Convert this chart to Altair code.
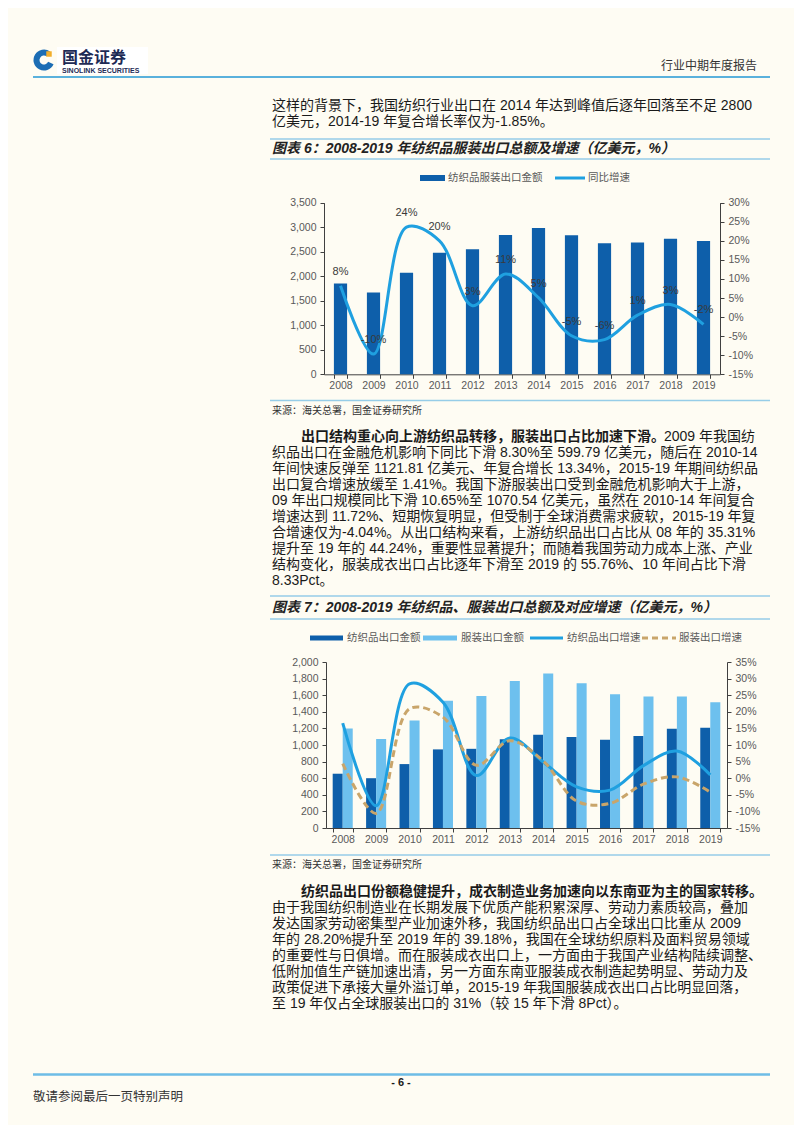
import altair as alt
import pandas as pd

# ---------------- data ----------------
years = [str(y) for y in range(2008, 2020)]

# Chart 6: total textile & apparel exports (100m USD) and YoY growth (%)
total_export = [1850, 1670, 2070, 2480, 2550, 2840, 2984, 2838, 2672, 2686, 2767, 2718]
total_growth = [8.2, -9.7, 23.6, 20.0, 3.0, 11.3, 5.1, -4.9, -5.9, 0.5, 3.3, -1.9]
total_growth_labels = ["8%", "-10%", "24%", "20%", "3%", "11%", "5%", "-5%", "-6%", "1%", "3%", "-2%"]

# Chart 7: textile / apparel exports (100m USD) and growth (%)
textile_export = [654, 600, 770, 947, 954, 1069, 1122, 1095, 1064, 1108, 1196, 1208]
apparel_export = [1198, 1071, 1294, 1532, 1591, 1771, 1862, 1743, 1612, 1584, 1584, 1516]
textile_growth = [16.6, -8.3, 28.4, 22.9, 0.8, 12.1, 4.9, -2.6, -3.6, 3.8, 8.2, 1.0]
apparel_growth = [4.4, -10.6, 20.9, 18.4, 3.9, 11.3, 5.2, -6.9, -7.6, -1.8, 0.4, -4.2]

series7 = ["纺织品出口金额", "服装出口金额"]
legend6 = ["纺织品服装出口金额", "同比增速"]
legend7 = ["纺织品出口金额", "服装出口金额", "纺织品出口增速", "服装出口增速"]

left_ticks6 = [0, 500, 1000, 1500, 2000, 2500, 3000, 3500]
right_ticks6 = [-15, -10, -5, 0, 5, 10, 15, 20, 25, 30]
left_ticks7 = [0, 200, 400, 600, 800, 1000, 1200, 1400, 1600, 1800, 2000]
right_ticks7 = [-15, -10, -5, 0, 5, 10, 15, 20, 25, 30, 35]

header_title = "行业中期年度报告"
logo_cn = "国金证券"
logo_en = "SINOLINK SECURITIES"

para1 = [
    "这样的背景下，我国纺织行业出口在 2014 年达到峰值后逐年回落至不足 2800",
    "亿美元，2014-19 年复合增长率仅为-1.85%。",
]
title6 = "图表 6：2008-2019 年纺织品服装出口总额及增速（亿美元，%）"
title7 = "图表 7：2008-2019 年纺织品、服装出口总额及对应增速（亿美元，%）"
source_text = "来源：海关总署，国金证券研究所"

para2_bold = "出口结构重心向上游纺织品转移，服装出口占比加速下滑。"
para2_first_tail = "2009 年我国纺"
para2 = [
    "织品出口在金融危机影响下同比下滑 8.30%至 599.79 亿美元，随后在 2010-14",
    "年间快速反弹至 1121.81 亿美元、年复合增长 13.34%，2015-19 年期间纺织品",
    "出口复合增速放缓至 1.41%。我国下游服装出口受到金融危机影响大于上游，",
    "09 年出口规模同比下滑 10.65%至 1070.54 亿美元，虽然在 2010-14 年间复合",
    "增速达到 11.72%、短期恢复明显，但受制于全球消费需求疲软，2015-19 年复",
    "合增速仅为-4.04%。从出口结构来看，上游纺织品出口占比从 08 年的 35.31%",
    "提升至 19 年的 44.24%，重要性显著提升；而随着我国劳动力成本上涨、产业",
    "结构变化，服装成衣出口占比逐年下滑至 2019 的 55.76%、10 年间占比下滑",
    "8.33Pct。",
]
para3_bold = "纺织品出口份额稳健提升，成衣制造业务加速向以东南亚为主的国家转移。"
para3 = [
    "由于我国纺织制造业在长期发展下优质产能积累深厚、劳动力素质较高，叠加",
    "发达国家劳动密集型产业加速外移，我国纺织品出口占全球出口比重从 2009",
    "年的 28.20%提升至 2019 年的 39.18%，我国在全球纺织原料及面料贸易领域",
    "的重要性与日俱增。而在服装成衣出口上，一方面由于我国产业结构陆续调整、",
    "低附加值生产链加速出清，另一方面东南亚服装成衣制造起势明显、劳动力及",
    "政策促进下承接大量外溢订单，2015-19 年我国服装成衣出口占比明显回落，",
    "至 19 年仅占全球服装出口的 31%（较 15 年下滑 8Pct）。",
]
footer_page = "- 6 -"
footer_note = "敬请参阅最后一页特别声明"

# ---------------- layout helpers ----------------
W, H = 786, 1117
OX, OY = 8, 8


def px(x):
    return x - OX


def py(y):
    return y - OY


FONT = 'Liberation Sans, "Noto Sans CJK SC", sans-serif'
BG = "#FEFCF3"
DARK = "#0E5FAA"
LIGHT = "#6DC0EE"
LINE_BLUE = "#1FA0E0"
TAN = "#C9A56A"
SEP = "#96CDE8"
AXIS_C = "#404040"
LABEL_C = "#595959"

NX = alt.X("x:Q", scale=None, axis=None)
NY = alt.Y("y:Q", scale=None, axis=None)


def text_layer(rows, **kw):
    df = pd.DataFrame(rows)
    base = dict(font=FONT, baseline="middle", align="left", color="#1a1a1a", fontSize=14)
    base.update(kw)
    return alt.Chart(df).mark_text(**base).encode(x=NX, y=NY, text="t:N")


layers = []

# ---------- decorative rules ----------
rules = pd.DataFrame([
    dict(x=px(33), x2=px(770), y=py(77), c="#5AB1DC", w=2.2),
    dict(x=px(270), x2=px(770), y=py(139), c=SEP, w=1.5),
    dict(x=px(270), x2=px(770), y=py(159), c=SEP, w=1.5),
    dict(x=px(270), x2=px(770), y=py(400.5), c=SEP, w=1.5),
    dict(x=px(270), x2=px(770), y=py(596), c=SEP, w=1.5),
    dict(x=px(270), x2=px(770), y=py(619), c=SEP, w=1.5),
    dict(x=px(270), x2=px(770), y=py(855), c=SEP, w=1.5),
    dict(x=px(33), x2=px(770), y=py(1074.5), c="#6EBDE6", w=2.5),
])
layers.append(
    alt.Chart(rules).mark_rule().encode(
        x=NX, x2="x2:Q", y=NY,
        color=alt.Color("c:N", scale=None, legend=None),
        strokeWidth=alt.StrokeWidth("w:Q", scale=None, legend=None),
    )
)

# ---------- logo ----------
one = pd.DataFrame({"a": [0]})
layers.append(
    alt.Chart(one).mark_rect(color="white").encode(
        x=alt.value(px(57)), x2=alt.value(px(148)), y=alt.value(py(47)), y2=alt.value(py(74))
    )
)
layers.append(
    alt.Chart(one).mark_arc(theta=2.0, theta2=6.9, innerRadius=4.5, outerRadius=10.5, color="#1C6DB4").encode(
        x=alt.value(px(44)), y=alt.value(py(60))
    )
)
layers.append(
    alt.Chart(one).mark_square(size=30, color="#F2AE2B", opacity=1).encode(
        x=alt.value(px(49)), y=alt.value(py(54))
    )
)
layers.append(text_layer([dict(x=px(62), y=py(57.5), t=logo_cn)], fontSize=16, fontWeight="bold", color="#1E2B55"))
layers.append(text_layer([dict(x=px(62), y=py(70.5), t=logo_en)], fontSize=7, fontWeight="bold", color="#1E2B55"))
layers.append(text_layer([dict(x=px(757), y=py(66), t=header_title)], fontSize=12, align="right", color="#333333"))

# ---------- body text ----------
normal_rows = []
for i, t in enumerate(para1):
    normal_rows.append(dict(x=px(272), y=py(106 + 16 * i), t=t))
for i, t in enumerate(para2):
    normal_rows.append(dict(x=px(272), y=py(453 + 16 * i), t=t))
for i, t in enumerate(para3):
    normal_rows.append(dict(x=px(272), y=py(908 + 16 * i), t=t))
layers.append(text_layer(normal_rows))
layers.append(text_layer([dict(x=px(664), y=py(437), t=para2_first_tail)]))
layers.append(text_layer([
    dict(x=px(301), y=py(437), t=para2_bold),
    dict(x=px(301), y=py(892), t=para3_bold),
], fontWeight="bold"))
layers.append(text_layer([
    dict(x=px(272), y=py(149), t=title6),
    dict(x=px(272), y=py(608), t=title7),
], fontWeight="bold", fontStyle="italic", color="#222222"))
layers.append(text_layer([
    dict(x=px(272), y=py(411), t=source_text),
    dict(x=px(272), y=py(865), t=source_text),
], fontSize=10, color="#333333"))
layers.append(text_layer([dict(x=px(401), y=py(1083), t=footer_page)], fontSize=11, fontWeight="bold", align="center"))
layers.append(text_layer([dict(x=px(33), y=py(1097), t=footer_note)], fontSize=12.5, color="#333333"))

# ---------- legends (drawn) ----------
leg_rects = pd.DataFrame([
    dict(x=px(420), x2=px(445), y=py(175), y2=py(181), c=DARK),
    dict(x=px(310), x2=px(343), y=py(635.5), y2=py(640.5), c=DARK),
    dict(x=px(423), x2=px(457), y=py(635.5), y2=py(640.5), c=LIGHT),
])
layers.append(
    alt.Chart(leg_rects).mark_rect().encode(
        x=NX, x2="x2:Q", y=NY, y2="y2:Q", color=alt.Color("c:N", scale=None, legend=None)
    )
)
leg_solid = pd.DataFrame([
    dict(x=px(555), x2=px(585), y=py(178)),
    dict(x=px(530), x2=px(563), y=py(638)),
])
layers.append(alt.Chart(leg_solid).mark_rule(color=LINE_BLUE, strokeWidth=3).encode(x=NX, x2="x2:Q", y=NY))
leg_dash = pd.DataFrame([dict(x=px(642), x2=px(676), y=py(638))])
layers.append(alt.Chart(leg_dash).mark_rule(color=TAN, strokeWidth=3, strokeDash=[6, 4]).encode(x=NX, x2="x2:Q", y=NY))
layers.append(text_layer([
    dict(x=px(448), y=py(178), t=legend6[0]),
    dict(x=px(588), y=py(178), t=legend6[1]),
    dict(x=px(347), y=py(638), t=legend7[0]),
    dict(x=px(461), y=py(638), t=legend7[1]),
    dict(x=px(567), y=py(638), t=legend7[2]),
    dict(x=px(679), y=py(638), t=legend7[3]),
], fontSize=10.5, color=LABEL_C))

# ---------- common axis styling ----------
ax_style = dict(
    labelFont="Liberation Sans", labelFontSize=10.5, labelColor=LABEL_C,
    domainColor=AXIS_C, tickColor=AXIS_C, domainWidth=1, tickWidth=1, tickSize=4,
    grid=False, title=None,
)

# ---------- Chart 6 ----------
df6 = pd.DataFrame({"year": years, "total": total_export, "growth": total_growth, "label": total_growth_labels})
x6_range = [px(324), px(720)]
y6_range = [py(374.3), py(202.7)]
x6_scale = alt.Scale(type="band", domain=years, range=x6_range, paddingInner=0.6, paddingOuter=0.3)
y6r_scale = alt.Scale(domain=[-15, 30], range=y6_range, nice=False, zero=False)

bars6 = alt.Chart(df6).mark_bar(color=DARK).encode(
    x=alt.X("year:N", title=None, scale=x6_scale,
            axis=alt.Axis(orient="bottom", offset=py(374.3) - H, tickBand="extent", labelPadding=2,
                          labelAngle=0, **ax_style)),
    y=alt.Y("total:Q", title=None,
            scale=alt.Scale(domain=[0, 3500], range=y6_range, nice=False, zero=True),
            axis=alt.Axis(orient="left", offset=-px(324), values=left_ticks6, format=",.0f",
                          labelPadding=4, **ax_style)),
)
line6 = alt.Chart(df6).mark_line(interpolate="catmull-rom", color=LINE_BLUE, strokeWidth=3).encode(
    x=alt.X("year:N", title=None, axis=None, bandPosition=0.5, scale=x6_scale),
    y=alt.Y("growth:Q", title=None, scale=y6r_scale,
            axis=alt.Axis(orient="right", offset=px(720) - W, values=right_ticks6,
                          labelExpr="datum.value + '%'", labelPadding=4, **ax_style)),
)
labels6 = alt.Chart(df6).mark_text(dy=-14, fontSize=11, color="#3a3a3a", font="Liberation Sans").encode(
    x=alt.X("year:N", title=None, axis=None, bandPosition=0.5, scale=x6_scale),
    y=alt.Y("growth:Q", title=None, axis=None, scale=y6r_scale),
    text="label:N",
)
layers += [bars6, line6, labels6]

# ---------- Chart 7 ----------
df7b = pd.DataFrame({
    "year": years * 2,
    "series": [series7[0]] * 12 + [series7[1]] * 12,
    "value": textile_export + apparel_export,
})
df7l = pd.DataFrame({"year": years, "tg": textile_growth, "ag": apparel_growth})
x7_range = [px(326), px(727)]
y7_range = [py(828), py(662)]
x7_scale = alt.Scale(type="band", domain=years, range=x7_range, paddingInner=0.4, paddingOuter=0.2)
y7r_scale = alt.Scale(domain=[-15, 35], range=y7_range, nice=False, zero=False)

bars7 = alt.Chart(df7b).mark_bar().encode(
    x=alt.X("year:N", title=None, scale=x7_scale,
            axis=alt.Axis(orient="bottom", offset=py(828) - H, tickBand="extent", labelPadding=2,
                          labelAngle=0, **ax_style)),
    xOffset=alt.XOffset("series:N", scale=alt.Scale(domain=series7, paddingInner=0, paddingOuter=0)),
    y=alt.Y("value:Q", title=None,
            scale=alt.Scale(domain=[0, 2000], range=y7_range, nice=False, zero=True),
            axis=alt.Axis(orient="left", offset=-px(326), values=left_ticks7, format=",.0f",
                          labelPadding=4, **ax_style)),
    color=alt.Color("series:N", scale=alt.Scale(domain=series7, range=[DARK, LIGHT]), legend=None),
)
line7a = alt.Chart(df7l).mark_line(interpolate="catmull-rom", color=LINE_BLUE, strokeWidth=3).encode(
    x=alt.X("year:N", title=None, axis=None, bandPosition=0.5, scale=x7_scale),
    y=alt.Y("tg:Q", title=None, scale=y7r_scale,
            axis=alt.Axis(orient="right", offset=px(727) - W, values=right_ticks7,
                          labelExpr="datum.value + '%'", labelPadding=4, **ax_style)),
)
line7b = alt.Chart(df7l).mark_line(interpolate="catmull-rom", color=TAN, strokeWidth=3, strokeDash=[7, 4]).encode(
    x=alt.X("year:N", title=None, axis=None, bandPosition=0.5, scale=x7_scale),
    y=alt.Y("ag:Q", title=None, axis=None, scale=y7r_scale),
)
layers += [bars7, line7a, line7b]

chart = (
    alt.layer(*layers)
    .resolve_scale(x="independent", y="independent", color="independent")
    .properties(width=W, height=H, autosize=alt.AutoSizeParams(type="none"), padding=0, background=BG)
    .configure_view(stroke=None)
)

chart.save("out.html", embed_options={"renderer": "svg", "actions": False})
